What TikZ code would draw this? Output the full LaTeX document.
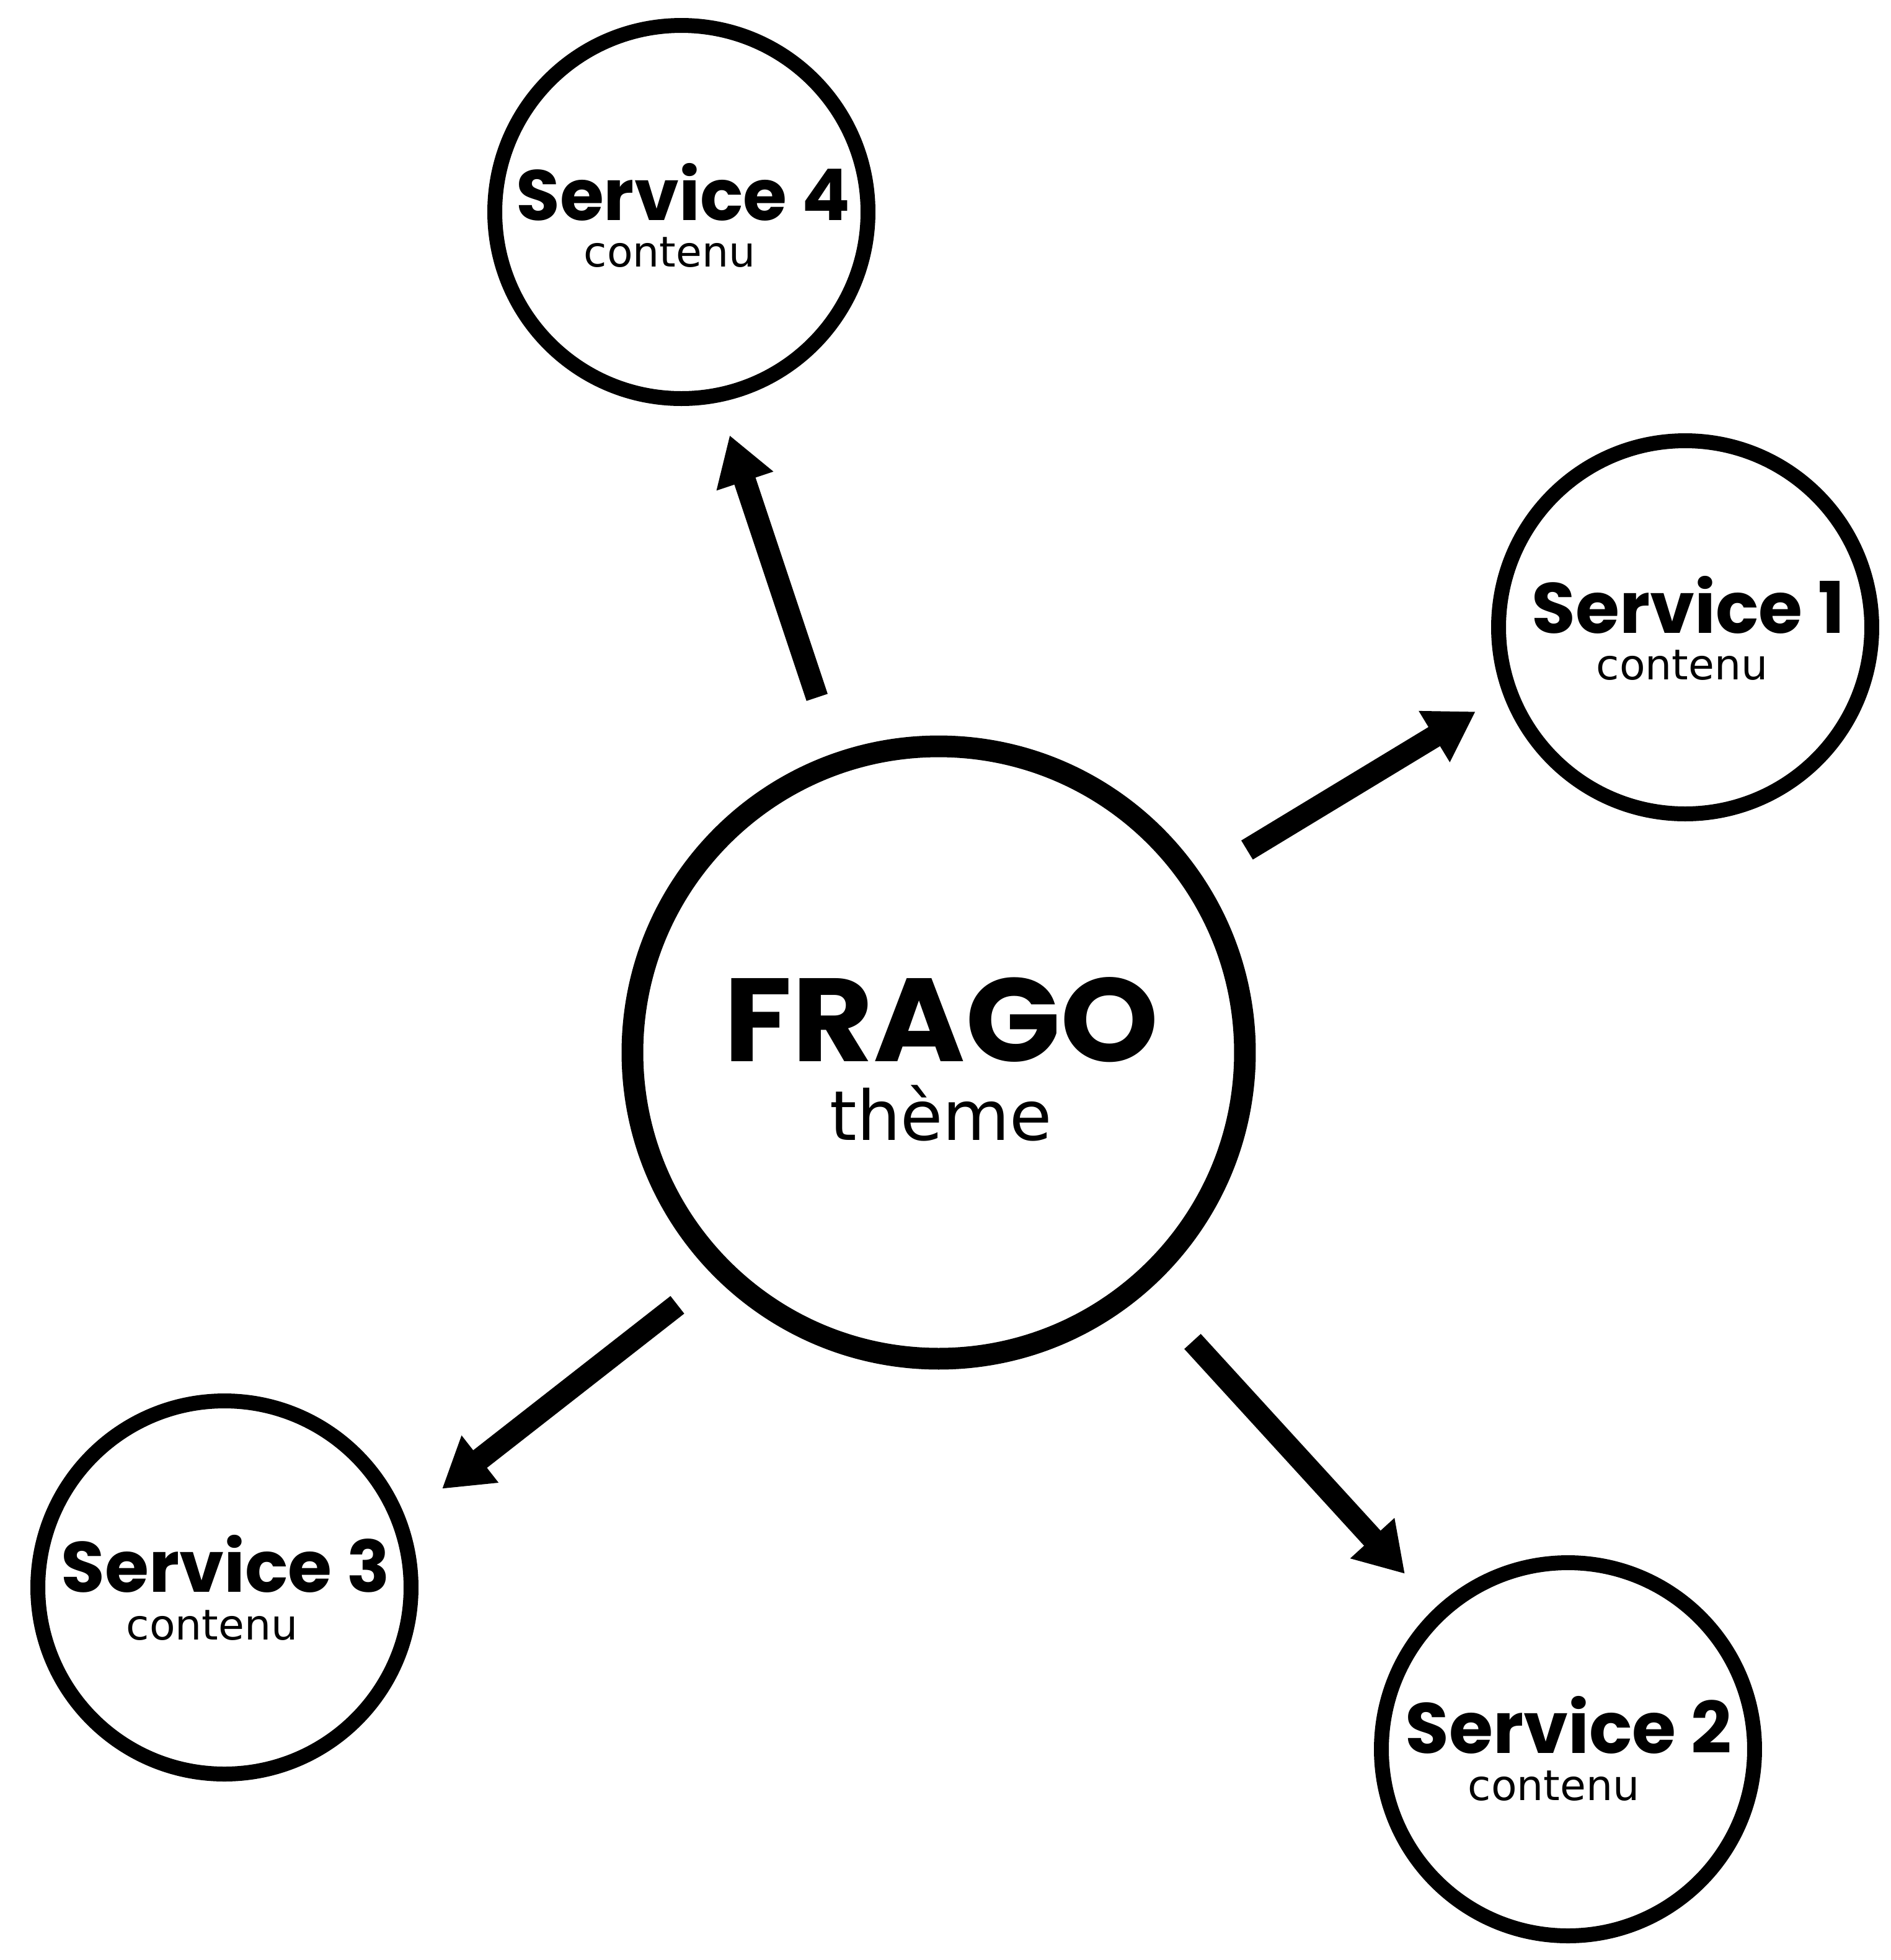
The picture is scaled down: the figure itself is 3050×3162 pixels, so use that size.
\documentclass[tikz,border=0pt]{standalone}
\usepackage{fontspec}
\newfontfamily\popfont{Poppins}
\newfontfamily\djfont{DejaVu Sans}
\usetikzlibrary{arrows.meta,calc}
\begin{document}
\begin{tikzpicture}[x=0.1pt,y=-0.1pt,
  bigcirc/.style={circle,draw,line width=3.5pt,minimum size=98.8pt,inner sep=0pt},
  smallcirc/.style={circle,draw,line width=2.4pt,minimum size=60.2pt,inner sep=0pt},
  titletext/.style={anchor=base,inner sep=0pt,font=\popfont\bfseries\fontsize{11.5pt}{12pt}\selectfont},
  subtext/.style={anchor=base,inner sep=0pt,font=\djfont\fontsize{6.8pt}{7pt}\selectfont},
  bigtitle/.style={anchor=base,inner sep=0pt,font=\popfont\bfseries\fontsize{19.1pt}{20pt}\selectfont},
  bigsub/.style={anchor=base,inner sep=0pt,font=\djfont\fontsize{11.1pt}{12pt}\selectfont},
  arr/.style={line width=3.6pt,-{Triangle[length=7.8pt,width=9.1pt]}}]
\useasboundingbox (0,0) rectangle (3050,3162);
\fill[white] (0,0) rectangle (3050,3162);

\node[bigcirc] (C) at (1514,1698) {};
\node[smallcirc] (S4) at (1099,342) {};
\node[smallcirc] (S1) at (2718,1012) {};
\node[smallcirc] (S3) at (362,2561) {};
\node[smallcirc] (S2) at (2529,2822) {};

\node[bigtitle] (tC) at ($(C)+(4,14)$) {\scalebox{1.055}[1]{FRAGO}};
\node[bigsub] (sC) at ($(C)+(4,141)$) {thème};

\node[titletext] (t4) at ($(S4)+(3,13)$) {Service 4};
\node[subtext] (s4) at ($(S4)+(-19,88)$) {contenu};
\node[titletext] (t1) at ($(S1)+(5,9)$) {Service 1};
\node[subtext] (s1) at ($(S1)+(-5,84)$) {contenu};
\node[titletext] (t3) at ($(S3)+(2,7)$) {Service 3};
\node[subtext] (s3) at ($(S3)+(-20,84)$) {contenu};
\node[titletext] (t2) at ($(S2)+(1,6)$) {Service 2};
\node[subtext] (s2) at ($(S2)+(-23,82)$) {contenu};

\draw[arr] ($(C)+(251.1:605.6)$) -- ($(S4)+(77.8:368.4)$);
\draw[arr] ($(C)+(-33.3:595.1)$) -- ($(S1)+(158.1:364.3)$);
\draw[arr] ($(C)+(136.0:585.9)$) -- ($(S3)+(-24.4:385.3)$);
\draw[arr] ($(C)+(48.7:620.4)$) -- ($(S2)+(-132.9:386.3)$);
\end{tikzpicture}
\end{document}
